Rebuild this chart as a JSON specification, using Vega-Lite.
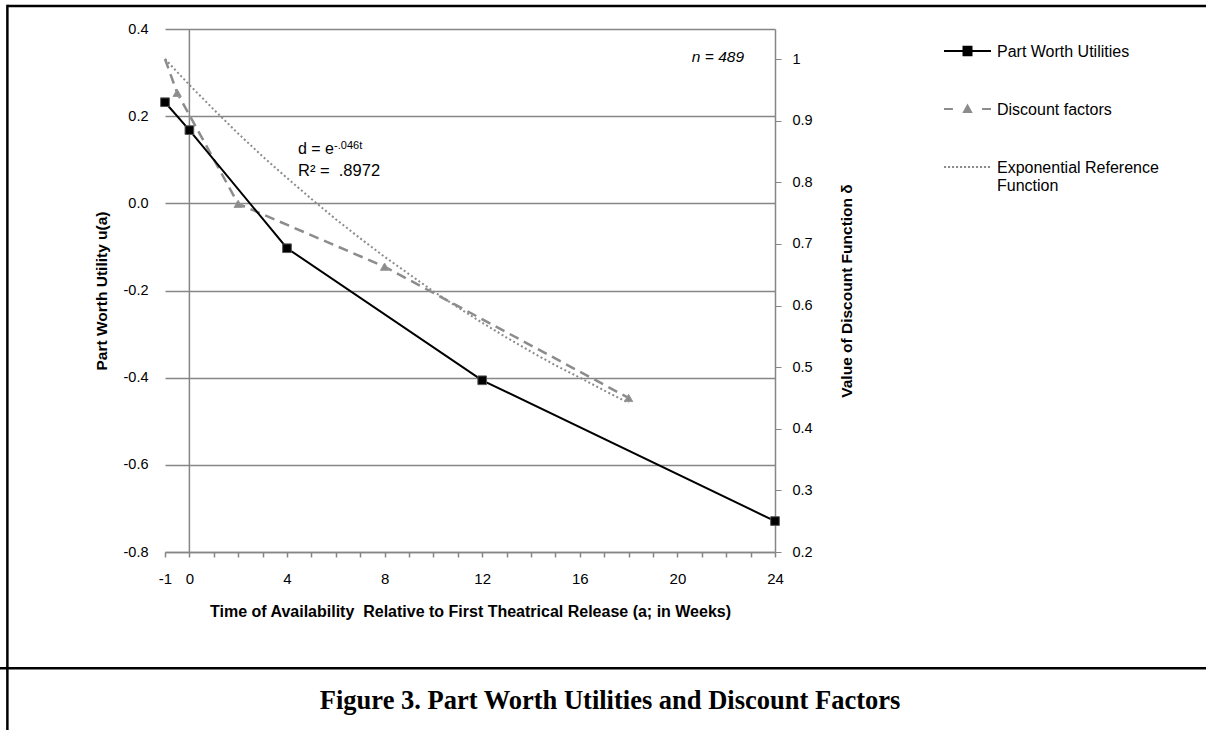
{
  "$schema": "https://vega.github.io/schema/vega-lite/v6.json",
  "width": 610,
  "height": 523,
  "autosize": {"type": "none"},
  "padding": {"left": 165, "top": 29, "right": 431, "bottom": 178},
  "background": "white",
  "config": {
    "view": {"stroke": null},
    "font": "Liberation Sans",
    "axis": {"labelFont": "Liberation Sans", "titleFont": "Liberation Sans", "labelColor": "#000000", "titleColor": "#000000", "titleFontWeight": "bold"},
    "axisX": {
      "labelOverlap": false, "labelFlush": false, "grid": false,
      "domainColor": "#868686", "domainWidth": 1.5,
      "tickColor": "#868686", "tickWidth": 1.5, "tickSize": 5,
      "labelFontSize": 15, "labelPadding": 14,
      "titleFontSize": 16, "titlePadding": 17
    }
  },
  "datasets": {
    "utilities": [
      {"x": -1, "u": 0.232}, {"x": 0, "u": 0.168}, {"x": 4, "u": -0.103}, {"x": 12, "u": -0.406}, {"x": 24, "u": -0.729}
    ],
    "discount": [
      {"x": -1, "d": 1.0}, {"x": -0.5, "d": 0.945}, {"x": 2, "d": 0.765}, {"x": 8, "d": 0.663}, {"x": 18, "d": 0.45}
    ],
    "reference": [
      {"x": -1, "d": 1.0}, {"x": 0, "d": 0.958}, {"x": 1, "d": 0.918}, {"x": 2, "d": 0.879}, {"x": 3, "d": 0.842},
      {"x": 4, "d": 0.807}, {"x": 5, "d": 0.773}, {"x": 6, "d": 0.74}, {"x": 7, "d": 0.709}, {"x": 8, "d": 0.679},
      {"x": 9, "d": 0.651}, {"x": 10, "d": 0.623}, {"x": 11, "d": 0.597}, {"x": 12, "d": 0.572}, {"x": 13, "d": 0.548},
      {"x": 14, "d": 0.525}, {"x": 15, "d": 0.503}, {"x": 16, "d": 0.483}, {"x": 17, "d": 0.462}, {"x": 18, "d": 0.442}
    ],
    "series": [
      {"series": "Part Worth Utilities"}, {"series": "Discount factors"}, {"series": "Exponential Reference Function"}
    ]
  },
  "layer": [
    {
      "layer": [
        {
          "data": {"name": "reference"},
          "mark": {"type": "line", "color": "#8c8c8c", "strokeWidth": 2, "strokeDash": [2, 2.5]},
          "encoding": {
            "x": {"field": "x", "type": "quantitative", "scale": {"domain": [-1, 24], "nice": false, "zero": false}, "axis": {"tickCount": 25, "labelExpr": "datum.value == -1 ? '-1' : (datum.value % 4 == 0 ? format(datum.value, 'd') : '')", "labelOverlap": false, "title": "Time of  Availability \u00a0Relative to First Theatrical Release (a; in Weeks)"}},
            "y": {
              "field": "d", "type": "quantitative",
              "scale": {"domain": [0.2, 1.0487], "nice": false, "zero": false},
              "axis": {
                "orient": "right", "values": [0.2, 0.3, 0.4, 0.5, 0.6, 0.7, 0.8, 0.9, 1],
                "labelExpr": "format(datum.value, '.1~f')", "grid": false,
                "domainColor": "#868686", "domainWidth": 1.5,
                "tickColor": "#868686", "tickWidth": 1, "tickSize": 6,
                "labelFontSize": 14.5, "labelPadding": 11,
                "title": "Value of Discount Function δ", "titleAngle": 270,
                "titleFontSize": 15.5, "titlePadding": 42
              }
            }
          }
        },
        {
          "data": {"name": "discount"},
          "mark": {"type": "line", "color": "#8c8c8c", "strokeWidth": 2.5, "strokeDash": [10, 6]},
          "encoding": {
            "x": {"field": "x", "type": "quantitative", "scale": {"domain": [-1, 24], "nice": false, "zero": false}, "axis": {"tickCount": 25, "labelExpr": "datum.value == -1 ? '-1' : (datum.value % 4 == 0 ? format(datum.value, 'd') : '')", "labelOverlap": false, "title": "Time of  Availability \u00a0Relative to First Theatrical Release (a; in Weeks)"}},
            "y": {"field": "d", "type": "quantitative", "scale": {"domain": [0.2, 1.0487], "nice": false, "zero": false}}
          }
        },
        {
          "data": {"name": "discount"},
          "transform": [{"filter": "datum.x > -1"}],
          "mark": {"type": "point", "shape": "triangle-up", "filled": true, "fill": "#8c8c8c", "stroke": "#999999", "strokeWidth": 1, "opacity": 1, "size": 70},
          "encoding": {
            "x": {"field": "x", "type": "quantitative", "scale": {"domain": [-1, 24], "nice": false, "zero": false}, "axis": {"tickCount": 25, "labelExpr": "datum.value == -1 ? '-1' : (datum.value % 4 == 0 ? format(datum.value, 'd') : '')", "labelOverlap": false, "title": "Time of  Availability \u00a0Relative to First Theatrical Release (a; in Weeks)"}},
            "y": {"field": "d", "type": "quantitative", "scale": {"domain": [0.2, 1.0487], "nice": false, "zero": false}}
          }
        },
        {
          "data": {"values": [{"k": 1}]},
          "mark": {"type": "rule", "color": "#868686", "strokeWidth": 1.5},
          "encoding": {"x": {"datum": 0}, "y": {"datum": 1.0487}, "y2": {"datum": 0.2}}
        }
      ]
    },
    {
      "layer": [
        {
          "data": {"name": "utilities"},
          "mark": {"type": "line", "color": "#000000", "strokeWidth": 2},
          "encoding": {
            "x": {"field": "x", "type": "quantitative", "scale": {"domain": [-1, 24], "nice": false, "zero": false}, "axis": {"tickCount": 25, "labelExpr": "datum.value == -1 ? '-1' : (datum.value % 4 == 0 ? format(datum.value, 'd') : '')", "labelOverlap": false, "title": "Time of  Availability \u00a0Relative to First Theatrical Release (a; in Weeks)"}},
            "y": {
              "field": "u", "type": "quantitative",
              "scale": {"domain": [-0.8, 0.4], "nice": false, "zero": false},
              "axis": {
                "orient": "left", "values": [-0.8, -0.6, -0.4, -0.2, 0, 0.2, 0.4],
                "labelExpr": "replace(format(datum.value, '.1f'), '−', '-')",
                "domain": false, "ticks": false, "tickSize": 0,
                "grid": true, "gridColor": "#868686", "gridWidth": 1.5, "gridOpacity": 1,
                "labelFontSize": 14.5, "labelPadding": 17,
                "title": "Part Worth Utility u(a)", "titleFontSize": 15.5, "titlePadding": 14
              }
            }
          }
        },
        {
          "data": {"name": "utilities"},
          "mark": {"type": "point", "shape": "square", "filled": true, "fill": "#000000", "stroke": "#555555", "strokeWidth": 1, "opacity": 1, "size": 75},
          "encoding": {
            "x": {"field": "x", "type": "quantitative", "scale": {"domain": [-1, 24], "nice": false, "zero": false}, "axis": {"tickCount": 25, "labelExpr": "datum.value == -1 ? '-1' : (datum.value % 4 == 0 ? format(datum.value, 'd') : '')", "labelOverlap": false, "title": "Time of  Availability \u00a0Relative to First Theatrical Release (a; in Weeks)"}},
            "y": {"field": "u", "type": "quantitative", "scale": {"domain": [-0.8, 0.4], "nice": false, "zero": false}}
          }
        },
        {"data": {"values": [{"k": 1}]}, "mark": {"type": "text", "text": "d = e", "align": "left", "baseline": "alphabetic", "fontSize": 16, "font": "Liberation Sans", "color": "#000000"}, "encoding": {"x": {"datum": 4.45}, "y": {"datum": 0.1132}}},
        {"data": {"values": [{"k": 1}]}, "mark": {"type": "text", "text": "-.046t", "align": "left", "baseline": "alphabetic", "fontSize": 11, "font": "Liberation Sans", "color": "#000000"}, "encoding": {"x": {"datum": 5.93}, "y": {"datum": 0.1255}}},
        {"data": {"values": [{"k": 1}]}, "mark": {"type": "text", "text": "R² = \u00a0.8972", "align": "left", "baseline": "alphabetic", "fontSize": 16.5, "font": "Liberation Sans", "color": "#000000"}, "encoding": {"x": {"datum": 4.45}, "y": {"datum": 0.0634}}},
        {"data": {"values": [{"k": 1}]}, "mark": {"type": "text", "text": "n = 489", "align": "right", "baseline": "alphabetic", "fontSize": 15.5, "fontStyle": "italic", "font": "Liberation Sans", "color": "#000000"}, "encoding": {"x": {"datum": 22.73}, "y": {"datum": 0.325}}},
        {"data": {"values": [{"k": 1}]}, "mark": {"type": "text", "text": "Figure 3. Part Worth Utilities and Discount Factors", "align": "center", "baseline": "alphabetic", "fontSize": 26.5, "fontWeight": "bold", "font": "Liberation Serif", "color": "#000000"}, "encoding": {"x": {"datum": 17.24}, "y": {"datum": -1.161}}},
        {"data": {"values": [{"k": 1}]}, "mark": {"type": "rule", "color": "#000000", "strokeWidth": 2.5}, "encoding": {"x": {"datum": -7.46}, "x2": {"datum": 42.5}, "y": {"datum": 0.4528}}},
        {"data": {"values": [{"k": 1}]}, "mark": {"type": "rule", "color": "#000000", "strokeWidth": 2.5}, "encoding": {"x": {"datum": -8}, "x2": {"datum": 42.5}, "y": {"datum": -1.0669}}},
        {"data": {"values": [{"k": 1}]}, "mark": {"type": "rule", "color": "#000000", "strokeWidth": 2.5}, "encoding": {"x": {"datum": -7.46}, "y": {"datum": 0.4555}, "y2": {"datum": -1.35}}},
        {
          "data": {"name": "series"},
          "mark": {"type": "point", "filled": true, "opacity": 0},
          "encoding": {
            "x": {"datum": 0},
            "y": {"datum": 0},
            "fill": {
              "field": "series", "type": "nominal",
              "scale": {"domain": ["Part Worth Utilities", "Discount factors", "Exponential Reference Function"], "range": ["#000000", "#8c8c8c", "#8c8c8c"]},
              "legend": {"title": null, "orient": "none", "legendX": 778, "legendY": -9.5, "padding": 0, "symbolSize": 2209, "symbolStrokeWidth": 2, "symbolOpacity": 1, "labelFont": "Liberation Sans", "labelFontSize": 16, "labelColor": "#000000", "labelOffset": 5, "labelBaseline": "top", "rowPadding": 17, "labelLimit": 400, "labelExpr": "datum.label == 'Exponential Reference Function' ? ['Exponential Reference', 'Function'] : datum.label"}
            },
            "stroke": {
              "field": "series", "type": "nominal",
              "scale": {"domain": ["Part Worth Utilities", "Discount factors", "Exponential Reference Function"], "range": ["#000000", "#8c8c8c", "#8c8c8c"]},
              "legend": {"title": null, "orient": "none", "legendX": 778, "legendY": -9.5, "padding": 0, "symbolSize": 2209, "symbolStrokeWidth": 2, "symbolOpacity": 1, "labelFont": "Liberation Sans", "labelFontSize": 16, "labelColor": "#000000", "labelOffset": 5, "labelBaseline": "top", "rowPadding": 17, "labelLimit": 400, "labelExpr": "datum.label == 'Exponential Reference Function' ? ['Exponential Reference', 'Function'] : datum.label"}
            },
            "shape": {
              "field": "series", "type": "nominal",
              "scale": {"domain": ["Part Worth Utilities", "Discount factors", "Exponential Reference Function"], "range": [
                "M-1,0.3H1M-0.17,0.12H0.17V0.48H-0.17Z",
                "M-1,0.3H-0.62M0.62,0.3H1M0,0.15L0.15,0.43H-0.15Z",
                "M-1,0.3H-0.91M-0.83,0.3H-0.74M-0.66,0.3H-0.57M-0.49,0.3H-0.4M-0.32,0.3H-0.23M-0.15,0.3H-0.06M0.02,0.3H0.11M0.19,0.3H0.28M0.36,0.3H0.45M0.53,0.3H0.62M0.7,0.3H0.79M0.87,0.3H0.96"
              ]},
              "legend": {"title": null, "orient": "none", "legendX": 778, "legendY": -9.5, "padding": 0, "symbolSize": 2209, "symbolStrokeWidth": 2, "symbolOpacity": 1, "labelFont": "Liberation Sans", "labelFontSize": 16, "labelColor": "#000000", "labelOffset": 5, "labelBaseline": "top", "rowPadding": 17, "labelLimit": 400, "labelExpr": "datum.label == 'Exponential Reference Function' ? ['Exponential Reference', 'Function'] : datum.label"}
            }
          }
        }
      ]
    }
  ],
  "resolve": {"scale": {"y": "independent"}}
}
